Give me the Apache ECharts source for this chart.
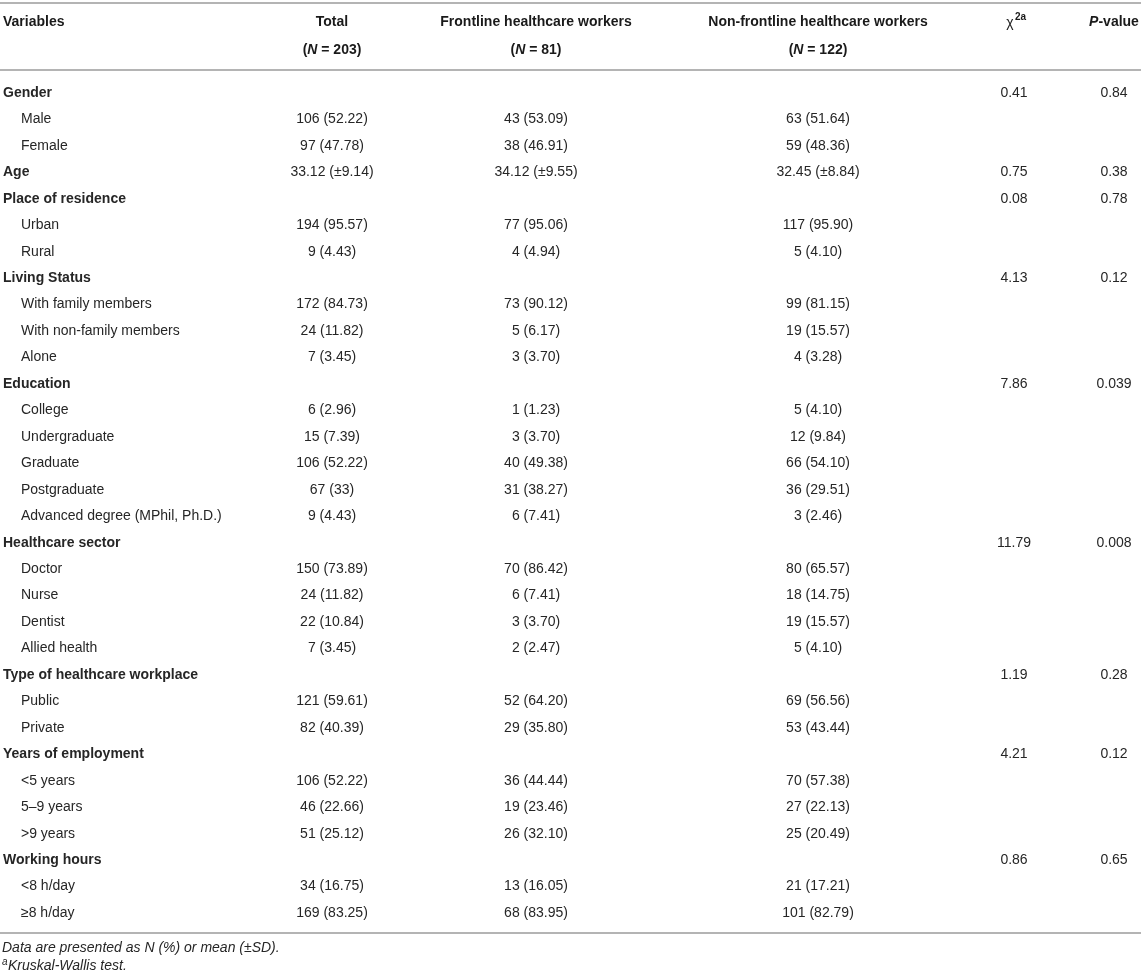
<!DOCTYPE html>
<html>
<head>
<meta charset="utf-8">
<script src="https://cdn.jsdelivr.net/npm/echarts@6/dist/echarts.min.js"></script>
<style>
  html, body { margin: 0; padding: 0; background: #fff; }
  #chart_1 { width: 1143px; height: 978px; }
</style>
</head>
<body>
<div id="chart_1"></div>
<script>
var variables = [
  'Gender', 'Male', 'Female', 'Age', 'Place of residence', 'Urban', 'Rural',
  'Living Status', 'With family members', 'With non-family members', 'Alone',
  'Education', 'College', 'Undergraduate', 'Graduate', 'Postgraduate', 'Advanced degree (MPhil, Ph.D.)',
  'Healthcare sector', 'Doctor', 'Nurse', 'Dentist', 'Allied health',
  'Type of healthcare workplace', 'Public', 'Private',
  'Years of employment', '<5 years', '5\u20139 years', '>9 years',
  'Working hours', '<8 h/day', '\u22658 h/day'
];
var groupRows = ['Gender', 'Age', 'Place of residence', 'Living Status', 'Education',
  'Healthcare sector', 'Type of healthcare workplace', 'Years of employment', 'Working hours'];

var total = [
  '', '106 (52.22)', '97 (47.78)', '33.12 (\u00b19.14)', '', '194 (95.57)', '9 (4.43)',
  '', '172 (84.73)', '24 (11.82)', '7 (3.45)',
  '', '6 (2.96)', '15 (7.39)', '106 (52.22)', '67 (33)', '9 (4.43)',
  '', '150 (73.89)', '24 (11.82)', '22 (10.84)', '7 (3.45)',
  '', '121 (59.61)', '82 (40.39)',
  '', '106 (52.22)', '46 (22.66)', '51 (25.12)',
  '', '34 (16.75)', '169 (83.25)'
];
var frontline = [
  '', '43 (53.09)', '38 (46.91)', '34.12 (\u00b19.55)', '', '77 (95.06)', '4 (4.94)',
  '', '73 (90.12)', '5 (6.17)', '3 (3.70)',
  '', '1 (1.23)', '3 (3.70)', '40 (49.38)', '31 (38.27)', '6 (7.41)',
  '', '70 (86.42)', '6 (7.41)', '3 (3.70)', '2 (2.47)',
  '', '52 (64.20)', '29 (35.80)',
  '', '36 (44.44)', '19 (23.46)', '26 (32.10)',
  '', '13 (16.05)', '68 (83.95)'
];
var nonFrontline = [
  '', '63 (51.64)', '59 (48.36)', '32.45 (\u00b18.84)', '', '117 (95.90)', '5 (4.10)',
  '', '99 (81.15)', '19 (15.57)', '4 (3.28)',
  '', '5 (4.10)', '12 (9.84)', '66 (54.10)', '36 (29.51)', '3 (2.46)',
  '', '80 (65.57)', '18 (14.75)', '19 (15.57)', '5 (4.10)',
  '', '69 (56.56)', '53 (43.44)',
  '', '70 (57.38)', '27 (22.13)', '25 (20.49)',
  '', '21 (17.21)', '101 (82.79)'
];
var chiSquare = [
  '0.41', '', '', '0.75', '0.08', '', '',
  '4.13', '', '', '',
  '7.86', '', '', '', '', '',
  '11.79', '', '', '', '',
  '1.19', '', '',
  '4.21', '', '', '',
  '0.86', '', ''
];
var pValues = [
  '0.84', '', '', '0.38', '0.78', '', '',
  '0.12', '', '', '',
  '0.039', '', '', '', '', '',
  '0.008', '', '', '', '',
  '0.28', '', '',
  '0.12', '', '', '',
  '0.65', '', ''
];
var footnotes = ['Data are presented as N (%) or mean (\u00b1SD).', 'Kruskal-Wallis test.'];

// layout
var FONT = '"Liberation Sans", Arial, Helvetica, sans-serif';
var textColor = '#262626';
var ruleColor = '#b4b4b4';
var colX = { variables: 3, total: 332, frontline: 536, nonFrontline: 818, chi: 1014, p: 1114 };
var indent = 18;

var dom = document.getElementById('chart_1');
var myChart = echarts.init(dom);

var rowIdx = variables.map(function (v, i) { return String(i); });

function textColumn(values, x, align, isLabelCol) {
  return {
    type: 'custom',
    coordinateSystem: 'cartesian2d',
    silent: true,
    data: values.map(function (v, i) { return [x, String(i)]; }),
    renderItem: function (params, api) {
      var txt = values[params.dataIndex];
      if (!txt) return null;
      var group = isLabelCol && groupRows.indexOf(txt) >= 0;
      var pt = api.coord([api.value(0), params.dataIndex]);
      return {
        type: 'text',
        x: pt[0] + (isLabelCol && !group ? indent : 0),
        y: pt[1],
        style: {
          text: txt,
          fill: textColor,
          font: (group ? 'bold ' : '') + '14px ' + FONT,
          align: align,
          verticalAlign: 'middle'
        }
      };
    }
  };
}

function line(y) {
  return {
    type: 'line',
    shape: { x1: 0, y1: y, x2: 1141, y2: y },
    style: { stroke: ruleColor, lineWidth: 2 }
  };
}

var bold = { fontFamily: FONT, fontSize: 14, fontWeight: 'bold', fill: '#1a1a1a' };
var boldItalic = { fontFamily: FONT, fontSize: 14, fontWeight: 'bold', fontStyle: 'italic', fill: '#1a1a1a' };

function header(x, y, text, align) {
  return {
    type: 'text', x: x, y: y,
    style: {
      text: text,
      align: align, verticalAlign: 'middle',
      rich: { b: bold, bi: boldItalic }
    }
  };
}

option = {
  backgroundColor: '#ffffff',
  animation: false,
  grid: { left: 0, right: 0, top: 93, bottom: 65 },
  xAxis: { type: 'value', min: 0, max: 1143, show: false },
  yAxis: { type: 'category', data: rowIdx, inverse: true, boundaryGap: false, show: false },
  graphic: [
    line(3), line(70), line(933),
    header(colX.variables, 22, '{b|Variables}', 'left'),
    header(colX.total, 22, '{b|Total}', 'center'),
    header(colX.total, 50, '{b|(}{bi|N}{b| = 203)}', 'center'),
    header(colX.frontline, 22, '{b|Frontline healthcare workers}', 'center'),
    header(colX.frontline, 50, '{b|(}{bi|N}{b| = 81)}', 'center'),
    header(colX.nonFrontline, 22, '{b|Non-frontline healthcare workers}', 'center'),
    header(colX.nonFrontline, 50, '{b|(}{bi|N}{b| = 122)}', 'center'),
    header(colX.p, 22, '{bi|P}{b|-value}', 'center'),
    {
      type: 'text', x: colX.chi - 4, y: 23,
      style: { text: '\u03c7', font: '14px ' + FONT, fill: '#1a1a1a', align: 'center', verticalAlign: 'middle' }
    },
    {
      type: 'text', x: colX.chi + 1, y: 17,
      style: { text: '2a', font: 'bold 10px ' + FONT, fill: '#1a1a1a', align: 'left', verticalAlign: 'middle' }
    },
    {
      type: 'text', x: 2, y: 948,
      style: { text: footnotes[0], font: 'italic 14px ' + FONT, fill: textColor, align: 'left', verticalAlign: 'middle' }
    },
    {
      type: 'text', x: 2, y: 962,
      style: { text: 'a', font: 'italic 10px ' + FONT, fill: textColor, align: 'left', verticalAlign: 'middle' }
    },
    {
      type: 'text', x: 8, y: 966,
      style: { text: footnotes[1], font: 'italic 14px ' + FONT, fill: textColor, align: 'left', verticalAlign: 'middle' }
    }
  ],
  series: [
    textColumn(variables, colX.variables, 'left', true),
    textColumn(total, colX.total, 'center', false),
    textColumn(frontline, colX.frontline, 'center', false),
    textColumn(nonFrontline, colX.nonFrontline, 'center', false),
    textColumn(chiSquare, colX.chi, 'center', false),
    textColumn(pValues, colX.p, 'center', false)
  ]
};

if (option && typeof option === 'object') {
  myChart.setOption(option, true);
}
</script>
</body>
</html>
